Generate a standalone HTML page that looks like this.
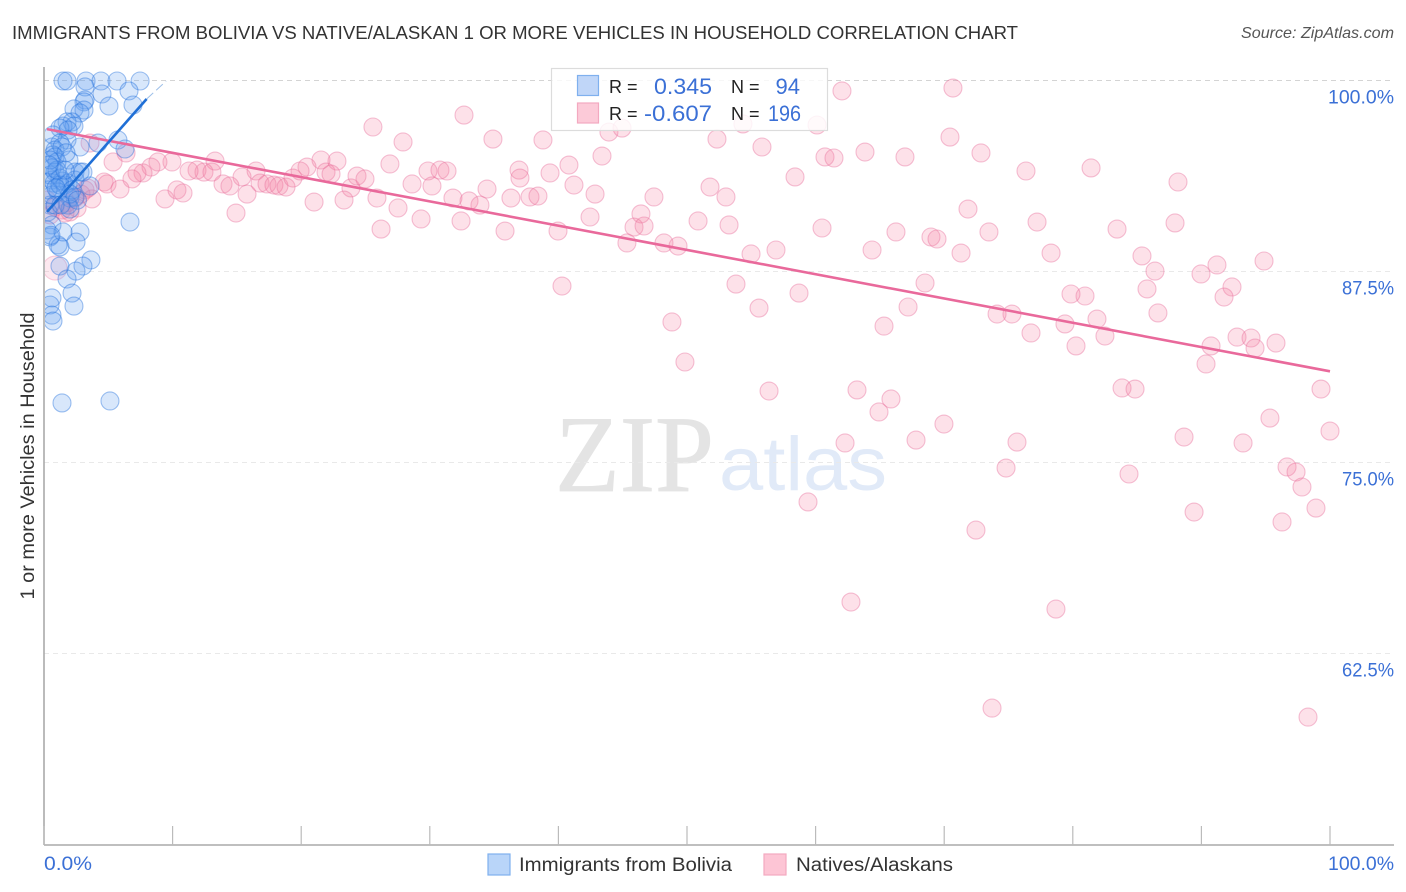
<!DOCTYPE html>
<html lang="en">
<head>
<meta charset="utf-8">
<title>Immigrants from Bolivia vs Native/Alaskan correlation chart</title>
<style>
html,body{margin:0;padding:0;background:#fff;}
svg{display:block;font-family:"Liberation Sans",sans-serif;}
</style>
</head>
<body>
<svg id="chart" xmlns="http://www.w3.org/2000/svg" width="1406" height="892" viewBox="0 0 1406 892">
  <defs>
    <clipPath id="plot-clip"><rect x="45" y="60" width="1361" height="785"/></clipPath>
  </defs>
  <rect x="0" y="0" width="1406" height="892" fill="#ffffff"/>
  <text x="12" y="39" font-size="18" fill="#333" textLength="1006" lengthAdjust="spacingAndGlyphs">IMMIGRANTS FROM BOLIVIA VS NATIVE/ALASKAN 1 OR MORE VEHICLES IN HOUSEHOLD CORRELATION CHART</text>
  <text x="1241" y="38" font-size="16" font-style="italic" fill="#555" textLength="153" lengthAdjust="spacingAndGlyphs">Source: ZipAtlas.com</text>
  <text x="555" y="491" font-family="'Liberation Serif',serif" font-size="109" fill="#e4e4e4" stroke="#e4e4e4" stroke-width="0.8" textLength="159" lengthAdjust="spacingAndGlyphs">ZIP</text>
  <text x="719" y="490" font-size="76" fill="#e1eaf8" textLength="168" lengthAdjust="spacingAndGlyphs">atlas</text>
  <g id="grid"></g>
  <g id="axes"></g>
  <g clip-path="url(#plot-clip)">
    <g id="pink-points"></g>
    <g id="blue-points"></g>
  </g>
  <g id="trend-lines"></g>
  <text transform="translate(34,456) rotate(-90)" font-size="19" fill="#333" text-anchor="middle" textLength="287" lengthAdjust="spacingAndGlyphs">1 or more Vehicles in Household</text>

  <g>
    <rect x="551.5" y="68.5" width="276" height="62" fill="#fff" fill-opacity="0.82" stroke="#dcdcdc" stroke-width="1.2"/>
    <rect x="577.5" y="75.5" width="21" height="20" fill="#b9d2f7" fill-opacity=".9" stroke="#7fb0ee" stroke-width="1.2"/>
    <rect x="577.5" y="103" width="21" height="20" fill="#fcc4d4" fill-opacity=".9" stroke="#f3a9c0" stroke-width="1.2"/>
    <text x="609" y="93" font-size="18" fill="#222">R =</text>
    <text x="654" y="94" font-size="22" fill="#3b70d6" textLength="58" lengthAdjust="spacingAndGlyphs">0.345</text>
    <text x="731" y="93" font-size="18" fill="#222">N =</text>
    <text x="800" y="94" font-size="22" fill="#3b70d6" text-anchor="end">94</text>
    <text x="609" y="120" font-size="18" fill="#222">R =</text>
    <text x="644" y="121" font-size="22" fill="#3b70d6" textLength="68" lengthAdjust="spacingAndGlyphs">-0.607</text>
    <text x="731" y="120" font-size="18" fill="#222">N =</text>
    <text x="768" y="121" font-size="22" fill="#3b70d6" textLength="33" lengthAdjust="spacingAndGlyphs">196</text>
  </g>

  <g>
    <rect x="488" y="854" width="22" height="21" fill="#b9d5f9" stroke="#7fb0ee" stroke-width="1.2"/>
    <text x="519" y="871" font-size="19" fill="#333" textLength="213" lengthAdjust="spacingAndGlyphs">Immigrants from Bolivia</text>
    <rect x="764" y="854" width="22" height="21" fill="#fdc5d5" stroke="#f3a9c0" stroke-width="1.2"/>
    <text x="796" y="871" font-size="19" fill="#333" textLength="157" lengthAdjust="spacingAndGlyphs">Natives/Alaskans</text>
  </g>
</svg>
<script>
const xTickValues = [0, 10, 20, 30, 40, 50, 60, 70, 80, 90, 100];
const yTickValues = [100, 87.5, 75, 62.5];
const yTickLabels = ["100.0%", "87.5%", "75.0%", "62.5%"];
const xEndValues = [0, 100];
const xEndLabels = ["0.0%", "100.0%"];

const blueX = [1.48,1.79,3.27,4.43,5.68,7.47,3.19,6.61,4.51,3.19,3.11,5.05,6.92,2.33,3.11,2.80,2.18,1.79,1.48,2.33,1.24,1.87,0.70,1.79,5.75,4.20,2.80,1.24,0.62,0.86,1.40,6.30,0.70,0.86,1.94,1.01,0.86,0.62,2.41,2.80,0.62,0.78,1.40,1.87,3.58,1.63,1.24,1.09,0.62,2.02,2.41,1.87,2.02,0.47,0.31,0.62,0.23,0.47,1.09,2.80,2.49,6.69,1.24,1.24,3.65,3.03,2.49,1.79,2.18,2.33,0.62,0.47,0.62,0.70,1.40,5.13,0.47,0.31,0.86,2.41,3.03,1.24,1.01,1.63,0.47,2.18,1.48,2.02,0.54,0.93,0.39,1.71,1.32,2.60];
const blueY = [100,100,100,100,100,100,99.61,99.35,99.15,98.76,98.63,98.36,98.43,98.17,98.10,97.91,97.32,97.32,97.05,97.05,96.92,96.79,96.47,96.14,96.14,95.94,95.68,95.94,95.68,95.48,95.68,95.55,95.16,95.03,94.83,94.70,94.04,94.31,94.04,94.04,93.52,93.32,93.45,93.32,93.13,93.19,93.65,92.74,92.54,92.34,92.41,91.88,91.62,91.88,91.43,90.58,90.25,89.79,89.27,90.12,89.46,90.77,89.14,87.89,88.29,87.89,87.56,87.04,86.12,85.27,85.80,85.34,84.68,84.29,78.93,79.06,93.85,92.87,91.88,93.52,94.04,93.19,94.17,94.17,94.83,92.87,90.12,92.60,89.90,93.00,94.50,95.30,91.90,92.20];

const pinkX = [62.05,70.68,32.66,25.58,27.92,34.91,38.80,43.93,44.95,54.35,60.11,52.33,70.45,55.83,81.42,72.86,63.84,60.73,61.43,66.95,43.39,40.82,26.90,22.78,21.54,20.45,13.30,9.95,8.86,8.32,7.70,7.23,6.84,5.37,6.38,3.58,16.49,15.40,11.90,12.44,13.06,11.28,13.92,14.46,15.79,16.80,17.34,17.88,18.27,18.82,19.36,19.91,21.93,22.32,23.87,24.34,24.96,36.94,39.35,29.86,30.79,31.34,28.62,30.17,34.45,37.01,41.21,42.85,47.43,51.79,53.03,58.40,76.36,88.18,4.67,4.90,5.91,9.41,10.34,10.81,3.73,3.19,2.88,2.41,1.79,1.40,0.86,2.02,2.57,0.47,0.23,14.93,21.00,23.33,25.89,27.53,29.32,31.80,33.05,33.90,32.43,35.85,36.31,37.79,38.41,26.21,39.97,42.46,46.42,45.88,46.66,50.86,53.27,45.33,48.21,49.30,54.98,56.92,60.50,64.39,66.25,68.97,69.44,71.31,71.85,73.48,77.22,83.44,87.95,78.31,85.38,86.39,85.77,89.97,91.21,92.38,91.76,94.87,68.51,58.71,53.81,40.28,55.60,48.83,49.84,56.38,63.22,64.93,65.86,62.29,67.81,69.98,59.41,62.75,72.47,78.69,73.72,98.29,74.81,75.66,84.37,83.83,84.84,80.25,82.50,81.88,79.39,80.95,79.86,75.27,74.11,76.75,67.19,65.32,86.62,90.36,90.75,92.77,93.86,94.17,95.80,99.30,100,95.33,93.24,88.65,89.43,96.66,97.36,97.82,98.91,96.27,1.63,3.42];
const pinkY = [99.35,99.54,97.77,96.99,96.01,96.20,96.14,96.66,96.92,97.19,97.12,96.20,96.33,95.68,94.31,95.29,95.35,95.03,94.96,95.03,95.09,94.50,94.57,94.76,94.83,94.37,94.76,94.70,94.70,94.37,93.98,93.98,93.59,94.70,95.29,95.94,94.11,93.72,94.17,94.04,94.04,94.11,93.26,93.13,92.60,93.32,93.26,93.19,93.13,93.06,93.65,94.11,94.04,93.91,93.00,93.78,93.59,94.17,93.98,94.11,94.17,94.11,93.26,93.13,92.93,93.65,93.19,92.60,92.41,93.06,92.41,93.72,94.11,93.39,93.39,93.26,92.93,92.28,92.87,92.67,92.28,92.87,92.60,92.34,92.02,91.56,91.75,91.43,91.69,91.23,92.21,91.36,92.08,92.21,92.34,91.69,90.97,92.34,92.15,91.88,90.84,90.18,92.34,92.41,92.47,90.31,90.18,91.10,91.30,90.44,90.51,90.84,90.58,89.40,89.40,89.20,88.68,88.94,90.38,88.94,90.12,89.79,89.66,88.74,91.62,90.12,90.77,90.31,90.71,88.74,88.55,87.56,86.39,87.37,87.96,86.52,85.86,88.22,86.78,86.12,86.71,86.58,85.14,84.23,81.61,79.71,79.78,78.34,79.19,76.31,76.50,77.55,72.45,65.90,70.61,65.44,58.96,58.37,74.67,76.37,74.28,79.91,79.84,82.66,83.31,84.42,84.10,85.93,86.06,84.75,84.75,83.51,85.21,83.96,84.82,81.48,82.66,83.24,83.18,82.52,82.85,79.84,77.09,77.94,76.31,76.70,71.79,74.74,74.41,73.43,72.05,71.14,91.36,92.99];
const pinkLargeX = [0.86];
const pinkLargeY = [87.76];

const blueTrendX = [0.23, 7.98];
const blueTrendY = [91.43, 98.82];
const blueExtensionX = [7.98, 9.5];
const blueExtensionY = [98.82, 100];
const pinkTrendX = [0.23, 100];
const pinkTrendY = [96.85, 81.0];

const NS = 'http://www.w3.org/2000/svg';
const xAt = v => 44 + v * 12.86;
const yAt = v => 81 + (100 - v) * 15.28;

function make(tag, parent, attrs) {
  const el = document.createElementNS(NS, tag);
  for (const k in attrs) el.setAttribute(k, attrs[k]);
  parent.appendChild(el);
  return el;
}

const grid = document.getElementById('grid');
yTickValues.forEach((v, i) => {
  const line = make('line', grid, {x1: 44, x2: 1394, y1: yAt(v) - 0.5, y2: yAt(v) - 0.5,
    stroke: i === 0 ? '#d4d4d4' : '#e9e9e9', 'stroke-width': 1, 'stroke-dasharray': '5 4'});
  
  
  const label = make('text', grid, {x: 1394, y: yAt(v) + 22.5, 'font-size': 19, fill: '#3b70d6', 'text-anchor': 'end',
    textLength: yTickLabels[i].length === 6 ? 66 : 52, lengthAdjust: 'spacingAndGlyphs'});
  label.textContent = yTickLabels[i];
  
  
});

const axes = document.getElementById('axes');
const yAxisLine = make('line', axes, {x1: 44, x2: 44, y1: 67, y2: yAt(50), stroke: '#aaaaaa', 'stroke-width': 1.6});


const xAxisLine = make('line', axes, {x1: 44, x2: 1394, y1: yAt(50), y2: yAt(50), stroke: '#aaaaaa', 'stroke-width': 1.6});


xTickValues.forEach(v => {
  const tick = make('line', axes, {x1: xAt(v), x2: xAt(v), y1: 826, y2: yAt(50), stroke: '#bbbbbb', 'stroke-width': 1.2});
  
  
});
xEndValues.forEach((v, i) => {
  const label = make('text', axes, {x: i === 0 ? xAt(v) : 1394, y: 870, 'font-size': 19, fill: '#3b70d6', 'text-anchor': i === 0 ? 'start' : 'end',
    textLength: i === 0 ? 48 : 66, lengthAdjust: 'spacingAndGlyphs'});
  label.textContent = xEndLabels[i];
  
  
});

const pinkGroup = document.getElementById('pink-points');
pinkX.forEach((x, i) => {
  const c = make('circle', pinkGroup, {cx: xAt(x), cy: yAt(pinkY[i]), r: 9, fill: 'rgba(245,130,165,0.24)', stroke: 'rgba(232,110,155,0.42)', 'stroke-width': 1.1});
  
  
});
pinkLargeX.forEach((x, i) => {
  const c = make('circle', pinkGroup, {cx: xAt(x), cy: yAt(pinkLargeY[i]), r: 12, fill: 'rgba(245,130,165,0.18)', stroke: 'rgba(232,110,155,0.3)', 'stroke-width': 1.1});
  
  
});

const blueGroup = document.getElementById('blue-points');
blueX.forEach((x, i) => {
  const c = make('circle', blueGroup, {cx: xAt(x), cy: yAt(blueY[i]), r: 9, fill: 'rgba(100,160,240,0.25)', stroke: 'rgba(30,110,220,0.42)', 'stroke-width': 1.1});
  
  
});

const trends = document.getElementById('trend-lines');
const pinkLine = make('line', trends, {x1: xAt(pinkTrendX[0]), y1: yAt(pinkTrendY[0]), x2: xAt(pinkTrendX[1]), y2: yAt(pinkTrendY[1]), stroke: '#e9699b', 'stroke-width': 2.6});


const blueLine = make('line', trends, {x1: xAt(blueTrendX[0]), y1: yAt(blueTrendY[0]), x2: xAt(blueTrendX[1]), y2: yAt(blueTrendY[1]), stroke: '#1f6fd6', 'stroke-width': 2.6});


const blueExt = make('line', trends, {x1: xAt(blueExtensionX[0]), y1: yAt(blueExtensionY[0]), x2: xAt(blueExtensionX[1]), y2: yAt(blueExtensionY[1]), stroke: '#9dbfe9', 'stroke-width': 1, 'stroke-dasharray': '9 4'});


</script>
</body>
</html>
